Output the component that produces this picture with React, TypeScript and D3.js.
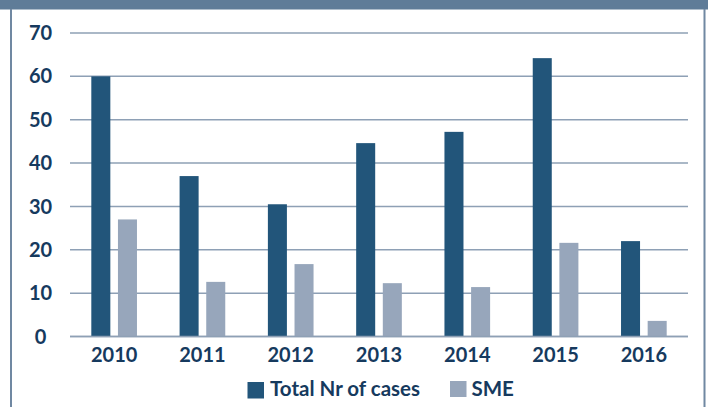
import React from "react";
import * as d3 from "d3";

const years = ["2010", "2011", "2012", "2013", "2014", "2015", "2016"];
const totalCases = [60, 37, 30.5, 44.6, 47.2, 64.2, 22];
const smeCases = [27, 12.6, 16.7, 12.3, 11.4, 21.6, 3.6];
const yTicks = [0, 10, 20, 30, 40, 50, 60, 70];
const seriesNames = ["Total Nr of cases", "SME"];

const W = 708;
const H = 407;
const DARK = "#22557a";
const LIGHT = "#97a6bb";
const TEXT = "#163a5e";
const GRID = "#8ea0b5";
const FONT = "Lato, 'Open Sans', sans-serif";

export default function App() {
  const left = 70;
  const right = 688;
  const top = 33;
  const bottom = 336.5;

  const x0 = d3.scaleBand<string>().domain(years).range([left, right]).padding(0);
  const x1 = d3
    .scaleBand<string>()
    .domain(seriesNames)
    .range([0, x0.bandwidth()])
    .paddingInner(0.286)
    .paddingOuter(0.8);
  const y = d3.scaleLinear().domain([0, 70]).range([bottom, top]);

  const series = [totalCases, smeCases];
  const colors = [DARK, LIGHT];

  return (
    <svg
      width={W}
      height={H}
      style={{ position: "absolute", left: 0, top: 0, background: "#fff" }}
      fontFamily={FONT}
    >
      <rect x={0} y={0} width={W} height={9.5} fill="#5f7c98" />
      <line x1={11} x2={11} y1={9} y2={H} stroke="#7088a2" strokeWidth={2} />
      <line x1={704.5} x2={704.5} y1={9} y2={H} stroke="#7088a2" strokeWidth={2} />

      {yTicks.map((t) => (
        <g key={t}>
          <line x1={left} x2={right} y1={y(t)} y2={y(t)} stroke={GRID} strokeWidth={1.5} />
          <text
            x={40.5}
            y={y(t) + 2}
            textAnchor="middle"
            dominantBaseline="middle"
            fill={TEXT}
            fontSize={20}
            fontWeight={700}
          >
            {t}
          </text>
        </g>
      ))}

      {years.map((yr, i) => (
        <g key={yr} transform={`translate(${x0(yr)},0)`}>
          {series.map((s, j) => (
            <rect
              key={j}
              x={x1(seriesNames[j])}
              y={y(s[i])}
              width={x1.bandwidth()}
              height={bottom - y(s[i])}
              fill={colors[j]}
            />
          ))}
          <text
            x={x0.bandwidth() / 2}
            y={357}
            textAnchor="middle"
            dominantBaseline="middle"
            fill={TEXT}
            fontSize={20}
            fontWeight={700}
          >
            {yr}
          </text>
        </g>
      ))}

      <line x1={left} x2={right} y1={bottom} y2={bottom} stroke={GRID} strokeWidth={1.5} />

      <rect x={247.5} y={382} width={16.5} height={16.5} fill={DARK} />
      <text x={270} y={391} dominantBaseline="middle" fill={TEXT} fontSize={20.5} fontWeight={700}>
        {seriesNames[0]}
      </text>
      <rect x={450} y={381} width={16.5} height={16} fill={LIGHT} />
      <text x={471.5} y={391} dominantBaseline="middle" fill={TEXT} fontSize={20.5} fontWeight={700}>
        {seriesNames[1]}
      </text>
    </svg>
  );
}
